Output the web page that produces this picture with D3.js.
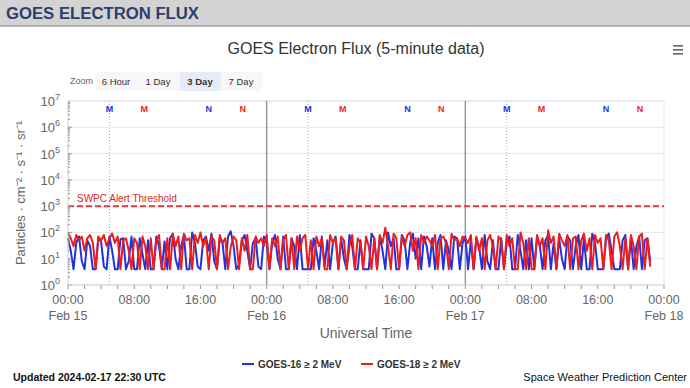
<!DOCTYPE html>
<html>
<head>
<meta charset="utf-8">
<script src="https://cdn.jsdelivr.net/npm/d3@7"></script>
<style>
  body { margin: 0; background: #fff; overflow: hidden; }
  svg { display: block; font-family: "Liberation Sans", Arial, sans-serif; }
</style>
</head>
<body>
<script>
// data: 20-minute samples from 2024-02-15 00:00 UTC
const startTime = Date.UTC(2024, 1, 15, 0, 0);
const stepMinutes = 20;

const goes16 = [
  60, 20, 4, 40, 70, 8, 4, 50, 30, 4, 4, 60,
  45, 5, 4, 70, 20, 4, 4, 55, 60, 4, 8, 70,
  4, 4, 60, 15, 4, 50, 4, 4, 70, 30, 4, 45,
  4, 60, 90, 10, 4, 30, 80, 4, 4, 100, 40, 5,
  4, 50, 70, 20, 90, 8, 4, 60, 40, 4, 70, 110,
  30, 4, 6, 50, 80, 20, 4, 40, 60, 5, 4, 70,
  50, 4, 40, 80, 10, 4, 70, 4, 4, 60, 30, 4,
  80, 4, 4, 4, 4, 60, 20, 4, 70, 5, 50, 4,
  40, 70, 4, 60, 10, 4, 80, 30, 4, 4, 50, 4,
  4, 4, 90, 60, 4, 70, 20, 4, 100, 30, 60, 4,
  4, 80, 50, 4, 40, 90, 10, 60, 4, 70, 30, 5,
  60, 4, 40, 80, 4, 50, 20, 4, 70, 60, 4, 40,
  70, 4, 50, 4, 60, 30, 4, 80, 8, 4, 50, 4,
  4, 60, 4, 40, 70, 4, 4, 80, 20, 4, 50, 4,
  60, 4, 70, 30, 4, 50, 80, 4, 40, 4, 60, 10,
  4, 70, 50, 4, 30, 80, 4, 60, 4, 4, 90, 40,
  4, 4, 4, 60, 90, 20, 4, 4, 4, 50, 80, 4,
  60, 4, 30, 70, 4, 50, 60, 8
];

const goes18 = [
  100, 60, 30, 80, 50, 70, 20, 60, 80, 40, 4, 70,
  50, 80, 30, 60, 90, 40, 70, 4, 50, 60, 20, 4,
  60, 40, 4, 70, 30, 4, 60, 4, 50, 80, 4, 4,
  60, 4, 80, 30, 70, 4, 90, 50, 60, 4, 80, 40,
  100, 30, 60, 4, 70, 50, 4, 80, 40, 60, 4, 30,
  70, 50, 4, 60, 20, 80, 4, 4, 70, 40, 60, 30,
  80, 4, 60, 30, 70, 4, 50, 80, 4, 60, 4, 70,
  20, 60, 80, 4, 50, 4, 70, 30, 60, 4, 4, 80,
  40, 60, 4, 70, 50, 4, 30, 80, 4, 60, 40, 4,
  70, 30, 4, 60, 4, 80, 40, 150, 30, 4, 90, 60,
  4, 70, 30, 80, 100, 20, 60, 4, 80, 40, 70, 50,
  30, 80, 4, 60, 70, 40, 4, 90, 50, 60, 30, 70,
  60, 40, 80, 4, 70, 20, 60, 4, 50, 80, 30, 4,
  70, 50, 4, 80, 30, 60, 4, 4, 100, 40, 4, 60,
  4, 4, 80, 30, 60, 4, 120, 40, 70, 4, 90, 50,
  30, 80, 4, 60, 70, 4, 50, 90, 20, 60, 4, 80,
  40, 60, 4, 80, 50, 4, 70, 100, 30, 4, 60, 4,
  80, 30, 4, 70, 90, 4, 60, 5
];

// local midnight (M) / noon (N) markers, hours UT
const g16Midnight = [5.0, 29.0, 53.0];
const g18Midnight = [9.2, 33.2, 57.2];
const g16Noon = [17.0, 41.0, 65.0];
const g18Noon = [21.1, 45.1, 69.1];

const yTicks = [0, 1, 2, 3, 4, 5, 6, 7];
const alertThreshold = 1000;
const zoomButtons = ["6 Hour", "1 Day", "3 Day", "7 Day"];
const seriesNames = ["GOES-16 \u2265 2 MeV", "GOES-18 \u2265 2 MeV"];

const W = 690, H = 388;
const blue = "#2233dd", red = "#ee1c1c";

const svg = d3.select("body").append("svg").attr("width", W).attr("height", H);

// header bar
svg.append("rect").attr("x", 0).attr("y", 0).attr("width", W).attr("height", 26).attr("fill", "#d3d3d3");
svg.append("line").attr("x1", 0).attr("x2", W).attr("y1", 26).attr("y2", 26).attr("stroke", "#7a7a7a").attr("stroke-width", 1);
svg.append("text").attr("x", 6).attr("y", 19)
  .attr("font-size", 16).attr("font-weight", "bold").attr("fill", "#2c3f6e")
  .attr("textLength", 193).attr("lengthAdjust", "spacingAndGlyphs")
  .text("GOES ELECTRON FLUX");

svg.append("text").attr("x", 356).attr("y", 54).attr("text-anchor", "middle")
  .attr("font-size", 16).attr("fill", "#333").text("GOES Electron Flux (5-minute data)");

// hamburger
[0, 4, 8].forEach(o => {
  svg.append("rect").attr("x", 673).attr("y", 45 + o).attr("width", 10).attr("height", 1.6).attr("fill", "#666");
});

// zoom buttons
svg.append("text").attr("x", 70).attr("y", 84).attr("font-size", 9).attr("fill", "#666").text("Zoom");
svg.append("rect").attr("x", 96).attr("y", 72).attr("width", 166).attr("height", 19).attr("fill", "#f7f7f7");
const btnX = [116, 158, 200, 241];
zoomButtons.forEach((b, i) => {
  if (b === "3 Day") {
    svg.append("rect").attr("x", 180).attr("y", 72).attr("width", 41).attr("height", 19).attr("fill", "#e6ebf5");
  }
  svg.append("text").attr("x", btnX[i]).attr("y", 85).attr("text-anchor", "middle")
    .attr("font-size", 9.5).attr("fill", "#333").attr("font-weight", b === "3 Day" ? "bold" : "normal").text(b);
});

// scales
const x = d3.scaleUtc().domain([new Date(startTime), new Date(Date.UTC(2024, 1, 18, 0, 0))]).range([68, 664]);
const y = d3.scaleLog().domain([1, 1e7]).range([285, 101]);
const tAt = h => new Date(startTime + h * 3600e3);

const plot = svg.append("g");

// horizontal grid
yTicks.forEach(p => {
  plot.append("line").attr("x1", x.range()[0]).attr("x2", x.range()[1])
    .attr("y1", y(Math.pow(10, p))).attr("y2", y(Math.pow(10, p)))
    .attr("stroke", p === 7 ? "#ccd6eb" : "#e6e6e6").attr("stroke-width", 1);
});
plot.append("line").attr("x1", 664).attr("x2", 664).attr("y1", y(1e7)).attr("y2", y(1))
  .attr("stroke", "#dde3ee");

// local midnight dotted lines (GOES-16)
g16Midnight.forEach(h => {
  plot.append("line").attr("x1", x(tAt(h))).attr("x2", x(tAt(h)))
    .attr("y1", y(1e7)).attr("y2", y(1))
    .attr("stroke", "#aaa").attr("stroke-dasharray", "1,2");
});

// day boundaries
[24, 48].forEach(h => {
  plot.append("line").attr("x1", x(tAt(h))).attr("x2", x(tAt(h)))
    .attr("y1", y(1e7)).attr("y2", y(1))
    .attr("stroke", "#999").attr("stroke-width", 1.5);
});

// M/N markers
const markers = [
  ...g16Midnight.map(h => ({ h, t: "M", c: blue })),
  ...g18Midnight.map(h => ({ h, t: "M", c: red })),
  ...g16Noon.map(h => ({ h, t: "N", c: blue })),
  ...g18Noon.map(h => ({ h, t: "N", c: red }))
];
plot.selectAll("text.mk").data(markers).enter().append("text")
  .attr("class", "mk")
  .attr("x", d => x(tAt(d.h))).attr("y", 112)
  .attr("text-anchor", "middle").attr("font-size", 9).attr("font-weight", "bold")
  .attr("fill", d => d.c).text(d => d.t);

// threshold
plot.append("line").attr("x1", x.range()[0]).attr("x2", x.range()[1])
  .attr("y1", y(alertThreshold)).attr("y2", y(alertThreshold))
  .attr("stroke", "#e23a3a").attr("stroke-width", 2).attr("stroke-dasharray", "6,3");
plot.append("text").attr("x", 77).attr("y", y(alertThreshold) - 4)
  .attr("font-size", 10).attr("fill", "#d62a2a").text("SWPC Alert Threshold");

// series
const line = d3.line()
  .x((d, i) => x(new Date(startTime + i * stepMinutes * 60e3)))
  .y(d => y(d));
plot.append("path").datum(goes16).attr("d", line)
  .attr("fill", "none").attr("stroke", blue).attr("stroke-width", 2).attr("stroke-linejoin", "round");
plot.append("path").datum(goes18).attr("d", line)
  .attr("fill", "none").attr("stroke", red).attr("stroke-width", 2).attr("stroke-linejoin", "round");

// y axis
const yAxis = svg.append("g");
yAxis.append("line").attr("x1", 68).attr("x2", 68).attr("y1", y(1e7)).attr("y2", y(1)).attr("stroke", "#ccc");
for (let p = 0; p < 7; p++) {
  for (let m = 1; m < 10; m++) {
    const v = m * Math.pow(10, p);
    yAxis.append("line").attr("x1", 68).attr("x2", m === 1 ? 72 : 70)
      .attr("y1", y(v)).attr("y2", y(v)).attr("stroke", "#999");
  }
}
yTicks.forEach(p => {
  const t = yAxis.append("text").attr("x", 60).attr("y", y(Math.pow(10, p)) + 5)
    .attr("text-anchor", "end").attr("font-size", 13).attr("fill", "#666");
  t.append("tspan").text("10");
  t.append("tspan").attr("dy", -6).attr("font-size", 9).text(p);
});
svg.append("text")
  .attr("transform", `translate(25,${(y(1e7) + y(1)) / 2}) rotate(-90)`)
  .attr("text-anchor", "middle").attr("font-size", 13).attr("fill", "#666")
  .text("Particles \u00b7 cm\u207b\u00b2 \u00b7 s\u207b\u00b9 \u00b7 sr\u207b\u00b9");

// x axis
const xAxis = svg.append("g");
xAxis.append("line").attr("x1", 68).attr("x2", 664).attr("y1", 285).attr("y2", 285).attr("stroke", "#ccd6eb");
x.ticks(d3.utcHour.every(2)).forEach(t => {
  xAxis.append("line").attr("x1", x(t)).attr("x2", x(t)).attr("y1", 285).attr("y2", 289).attr("stroke", "#999");
});
const fmtH = d3.utcFormat("%H:%M"), fmtD = d3.utcFormat("%b %d");
x.ticks(d3.utcHour.every(8)).forEach(t => {
  xAxis.append("text").attr("x", x(t)).attr("y", 304).attr("text-anchor", "middle")
    .attr("font-size", 12.5).attr("fill", "#666").text(fmtH(t));
  if (t.getUTCHours() === 0) {
    xAxis.append("text").attr("x", x(t)).attr("y", 320).attr("text-anchor", "middle")
      .attr("font-size", 12.5).attr("fill", "#666").text(fmtD(t));
  }
});
svg.append("text").attr("x", 366).attr("y", 338).attr("text-anchor", "middle")
  .attr("font-size", 14).attr("fill", "#666").text("Universal Time");

// legend
const legX = [242, 361];
seriesNames.forEach((n, i) => {
  svg.append("line").attr("x1", legX[i]).attr("x2", legX[i] + 12).attr("y1", 364).attr("y2", 364)
    .attr("stroke", i === 0 ? blue : red).attr("stroke-width", 2);
  svg.append("text").attr("x", legX[i] + 16).attr("y", 368).attr("font-size", 10)
    .attr("font-weight", "bold").attr("fill", "#333").text(n);
});

svg.append("text").attr("x", 13).attr("y", 381).attr("font-size", 10.5).attr("font-weight", "bold")
  .attr("fill", "#111").text("Updated 2024-02-17 22:30 UTC");
svg.append("text").attr("x", 687).attr("y", 381).attr("font-size", 11).attr("text-anchor", "end")
  .attr("fill", "#111").text("Space Weather Prediction Center");
</script>
</body>
</html>
